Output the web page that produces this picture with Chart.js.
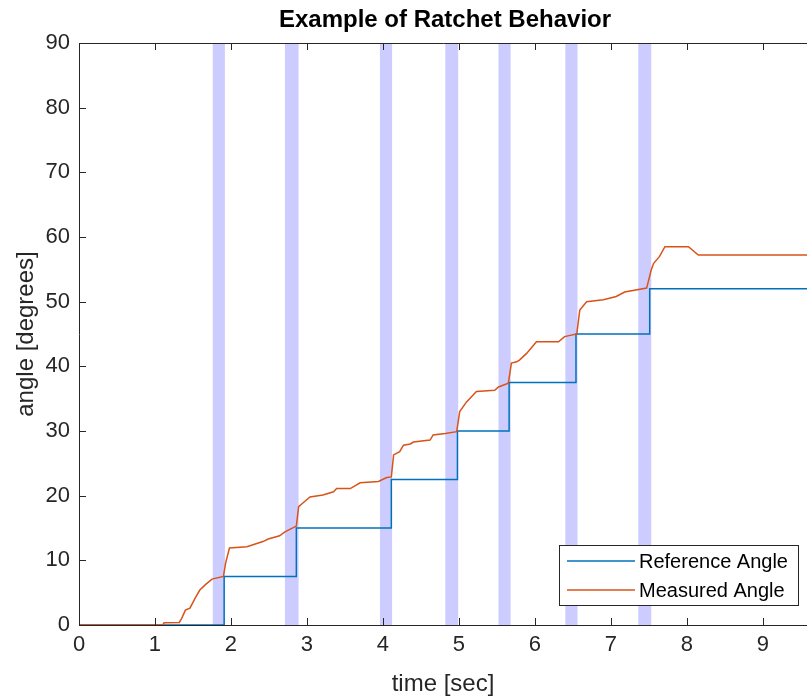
<!DOCTYPE html>
<html>
<head>
<meta charset="utf-8">
<script src="https://cdn.jsdelivr.net/npm/chart.js@4"></script>
<style>
  html, body { margin: 0; padding: 0; background: #fff; }
</style>
</head>
<body>
<canvas id="chart" width="807" height="696"></canvas>
<script>
// --- data ---
const refTime  = [0, 1.91, 1.91, 2.86, 2.86, 4.11, 4.11, 4.98, 4.98, 5.66, 5.66, 6.54, 6.54, 7.51, 7.51, 9.58];
const refAngle = [0, 0, 7.5, 7.5, 15, 15, 22.5, 22.5, 30, 30, 37.5, 37.5, 45, 45, 52, 52];

const measTime = [0, 1.10, 1.12, 1.32, 1.35, 1.40, 1.46, 1.53, 1.59, 1.66, 1.75, 1.90, 1.93, 1.98,
  2.21, 2.29, 2.42, 2.49, 2.64, 2.71, 2.86, 2.89, 2.95, 3.04, 3.21, 3.35, 3.39, 3.57, 3.70, 3.94,
  4.05, 4.11, 4.14, 4.22, 4.27, 4.36, 4.40, 4.62, 4.66, 4.82, 4.97, 5.01, 5.10, 5.23, 5.47, 5.52,
  5.65, 5.69, 5.76, 5.80, 5.89, 6.02, 6.31, 6.39, 6.55, 6.59, 6.68, 6.90, 7.07, 7.18, 7.47, 7.53,
  7.56, 7.64, 7.71, 8.02, 8.15, 9.58];
const measAngle = [0, 0, 0.35, 0.4, 1.0, 2.3, 2.6, 4.2, 5.4, 6.2, 7.1, 7.5, 9.6, 11.9,
  12.1, 12.4, 12.9, 13.3, 13.8, 14.4, 15.3, 18.3, 18.9, 19.8, 20.1, 20.6, 21.1, 21.1, 22.0, 22.2,
  22.8, 22.9, 26.3, 26.8, 27.8, 28.0, 28.3, 28.6, 29.4, 29.6, 29.9, 33.0, 34.5, 36.1, 36.3, 36.8,
  37.4, 40.5, 40.7, 41.0, 42.0, 43.8, 43.8, 44.6, 45.0, 48.7, 50.0, 50.3, 50.8, 51.5, 52.1, 54.9,
  55.9, 57.0, 58.5, 58.5, 57.2, 57.2];

const bandStart = [1.76, 2.71, 3.96, 4.82, 5.52, 6.40, 7.36];
const bandEnd   = [1.92, 2.89, 4.12, 4.99, 5.68, 6.56, 7.53];

const xTicks = [0, 1, 2, 3, 4, 5, 6, 7, 8, 9];
const yTicks = [0, 10, 20, 30, 40, 50, 60, 70, 80, 90];

const AXIS = '#262626';
const FONT = '"Liberation Sans", Arial, Helvetica, sans-serif';

const toXY = (xs, ys) => xs.map((x, i) => ({ x: x, y: ys[i] }));

// shaded intervals behind the lines
const bandPlugin = {
  id: 'bands',
  beforeDatasetsDraw(chart) {
    const { ctx, chartArea, scales: { x } } = chart;
    ctx.save();
    ctx.fillStyle = 'rgba(0, 0, 255, 0.2)';
    bandStart.forEach((s, i) => {
      const x0 = x.getPixelForValue(s);
      const x1 = x.getPixelForValue(bandEnd[i]);
      ctx.fillRect(x0, chartArea.top, x1 - x0, chartArea.bottom - chartArea.top);
    });
    ctx.restore();
  }
};

// MATLAB-ish box: axis lines, inward ticks, title, legend
const framePlugin = {
  id: 'frame',
  afterDraw(chart) {
    const { ctx, chartArea: a, scales: { x, y } } = chart;
    ctx.save();
    ctx.strokeStyle = AXIS;
    ctx.lineWidth = 1;
    ctx.beginPath();
    ctx.moveTo(a.left + 0.5, a.bottom + 0.5);
    ctx.lineTo(a.left + 0.5, a.top + 0.5);
    ctx.lineTo(a.right, a.top + 0.5);
    ctx.moveTo(a.left, a.bottom + 0.5);
    ctx.lineTo(a.right, a.bottom + 0.5);
    xTicks.forEach(v => {
      const px = Math.round(x.getPixelForValue(v)) + 0.5;
      ctx.moveTo(px, a.bottom);
      ctx.lineTo(px, a.bottom - 7);
      ctx.moveTo(px, a.top);
      ctx.lineTo(px, a.top + 7);
    });
    yTicks.forEach(v => {
      const py = Math.round(y.getPixelForValue(v)) + 0.5;
      ctx.moveTo(a.left, py);
      ctx.lineTo(a.left + 7, py);
    });
    ctx.stroke();

    // title
    ctx.fillStyle = '#000';
    ctx.font = 'bold 24px ' + FONT;
    ctx.textAlign = 'center';
    ctx.textBaseline = 'middle';
    ctx.fillText('Example of Ratchet Behavior', (a.left + a.right) / 2 + 2, 20);

    // legend box (lower right)
    const bx = a.right - 248, by = a.bottom - 80, bw = 239, bh = 60;
    ctx.fillStyle = '#fff';
    ctx.fillRect(bx, by, bw, bh);
    ctx.strokeStyle = AXIS;
    ctx.strokeRect(bx + 0.5, by + 0.5, bw, bh);
    const items = [
      { label: 'Reference Angle', color: '#0072BD' },
      { label: 'Measured Angle', color: '#D95319' }
    ];
    ctx.font = '20px ' + FONT;
    ctx.textAlign = 'left';
    items.forEach((it, i) => {
      const ly = by + 16 + i * 29;
      ctx.strokeStyle = it.color;
      ctx.lineWidth = 1.5;
      ctx.beginPath();
      ctx.moveTo(bx + 8, ly);
      ctx.lineTo(bx + 76, ly);
      ctx.stroke();
      ctx.fillStyle = '#000';
      ctx.fillText(it.label, bx + 80, ly + 1);
    });
    ctx.restore();
  }
};

new Chart(document.getElementById('chart'), {
  type: 'line',
  data: {
    datasets: [
      {
        label: 'Measured Angle',
        data: toXY(measTime, measAngle),
        borderColor: '#D95319',
        borderWidth: 1.5,
        pointRadius: 0,
        tension: 0,
        order: 0
      },
      {
        label: 'Reference Angle',
        data: toXY(refTime, refAngle),
        borderColor: '#0072BD',
        borderWidth: 1.5,
        pointRadius: 0,
        tension: 0,
        order: 1
      }
    ]
  },
  options: {
    responsive: false,
    animation: false,
    layout: { padding: { top: 43, left: 0, right: 0, bottom: 0 } },
    plugins: {
      legend: { display: false },
      tooltip: { enabled: false },
      title: { display: false }
    },
    scales: {
      x: {
        type: 'linear',
        min: 0,
        max: 9.58,
        grid: { display: false, drawTicks: false },
        border: { display: false },
        ticks: {
          stepSize: 1,
          includeBounds: false,
          padding: 7,
          color: AXIS,
          font: { family: FONT, size: 22 }
        },
        title: {
          display: true,
          text: 'time [sec]',
          color: AXIS,
          padding: { top: 1, bottom: 0 },
          font: { family: FONT, size: 24, lineHeight: 1 }
        },
        afterFit: s => { s.height = 71; }
      },
      y: {
        type: 'linear',
        min: 0,
        max: 90,
        grid: { display: false, drawTicks: false },
        border: { display: false },
        ticks: {
          stepSize: 10,
          padding: 9,
          color: AXIS,
          font: { family: FONT, size: 22 }
        },
        title: {
          display: true,
          text: 'angle [degrees]',
          color: AXIS,
          padding: { top: 14, bottom: 0 },
          font: { family: FONT, size: 24, lineHeight: 1 }
        },
        afterFit: s => { s.width = 79; }
      }
    }
  },
  plugins: [bandPlugin, framePlugin]
});
</script>
</body>
</html>
